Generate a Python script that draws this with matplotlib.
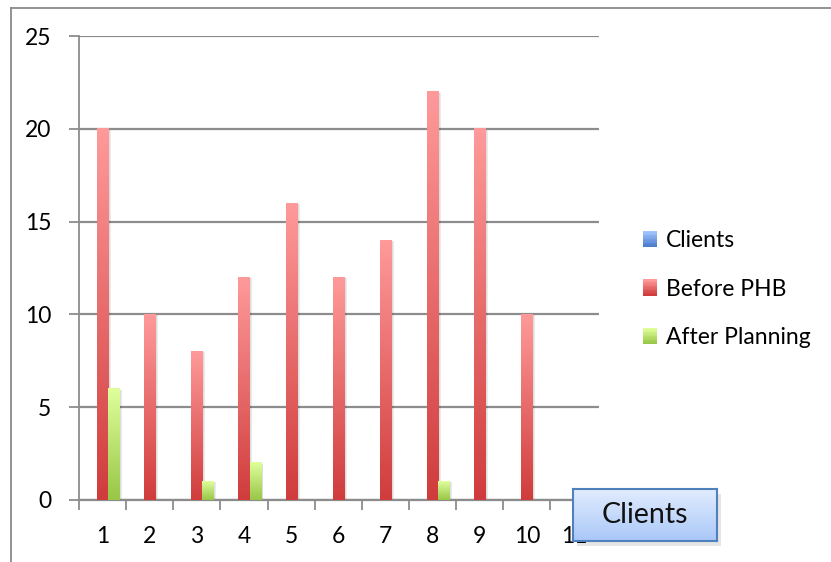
import numpy as np
import matplotlib
matplotlib.use("Agg")
import matplotlib.pyplot as plt
from matplotlib.colors import LinearSegmentedColormap
from matplotlib.patches import Rectangle
from matplotlib.legend_handler import HandlerBase
from matplotlib.lines import Line2D

# Chart data
categories = [1, 2, 3, 4, 5, 6, 7, 8, 9, 10, 11]
clients = [0, 0, 0, 0, 0, 0, 0, 0, 0, 0, 0]
before_phb = [20, 10, 8, 12, 16, 12, 14, 22, 20, 10, 0]
after_planning = [6, 0, 1, 2, 0, 0, 0, 1, 0, 0, 0]
y_ticks = [0, 5, 10, 15, 20, 25]

series_names = ["Clients", "Before PHB", "After Planning"]
# (top colour, bottom colour) of each gradient
series_grad = [("#a3c6ff", "#4a7ccc"),
               ("#ff9a9a", "#d03c3c"),
               ("#e0ff9c", "#98c646")]

plt.rcParams['font.family'] = ['Lato', 'DejaVu Sans']

W, H = 831, 562
fig = plt.figure(figsize=(W / 100, H / 100), dpi=100)

# outer chart border (top and left only visible)
fig.add_artist(Line2D([11 / W, 1], [1 - 8 / H, 1 - 8 / H], color="#8a8a8a", lw=1.3))
fig.add_artist(Line2D([11 / W, 11 / W], [0, 1 - 8 / H], color="#8a8a8a", lw=1.3))

ax = fig.add_axes([79 / W, 1 - 500 / H, (599 - 79) / W, (500 - 36) / H])

x = np.arange(len(categories)) + 1
bw = 0.235
offsets = [-bw, 0, bw]
all_values = [clients, before_phb, after_planning]

for vals, off, (ctop, cbot) in zip(all_values, offsets, series_grad):
    cmap = LinearSegmentedColormap.from_list("g", [cbot, ctop])
    bars = ax.bar(x + off, vals, width=bw, color="none", zorder=3)
    for b in bars:
        h = b.get_height()
        if h <= 0:
            continue
        x0 = b.get_x()
        # soft shadow to the right
        for k, a in zip([0.06, 0.04, 0.02], [0.08, 0.06, 0.04]):
            ax.add_patch(Rectangle((x0 + k, 0), bw, h - 0.05, color="#000000",
                                   alpha=a, lw=0, zorder=2))
        grad = np.linspace(0, 1, 256).reshape(-1, 1)
        ax.imshow(grad, cmap=cmap, origin="lower", aspect="auto",
                  extent=(x0, x0 + bw, 0, h), zorder=3)

ax.set_xlim(0.5, 11.53)
ax.set_ylim(0, 25)
ax.set_yticks(y_ticks)
ax.yaxis.grid(True, color="#8c8c8c", lw=1.6, zorder=1)
ax.set_axisbelow(True)

ax.set_xticks(x)
ax.set_xticklabels([str(c) for c in categories])
ax.set_xticks(np.arange(0.5, 11.6, 1.0), minor=True)
ax.tick_params(axis="x", which="major", length=0, pad=19, labelsize=16.5)
ax.tick_params(axis="x", which="minor", length=7, width=1.3, color="#8c8c8c", direction="out")
ax.tick_params(axis="y", length=7, width=1.3, color="#8c8c8c", pad=13, labelsize=16.5)

for s in ["top", "right"]:
    ax.spines[s].set_visible(False)
ax.spines["left"].set_color("#8c8c8c")
ax.spines["left"].set_linewidth(1.3)
ax.spines["bottom"].set_color("#8c8c8c")
ax.spines["bottom"].set_linewidth(1.6)


# legend with gradient swatches
class GradHandler(HandlerBase):
    def __init__(self, ctop, cbot):
        super().__init__()
        self.ctop, self.cbot = ctop, cbot

    def create_artists(self, legend, orig_handle, xd, yd, width, height, fontsize, trans):
        cmap = LinearSegmentedColormap.from_list("g", [self.cbot, self.ctop])
        n = 12
        arts = []
        for i in range(n):
            r = Rectangle((0, -yd + height * i / n), width, height / n + 0.3,
                          color=cmap(i / (n - 1)), lw=0, transform=trans)
            arts.append(r)
        return arts


handles = [Rectangle((0, 0), 1, 1) for _ in series_names]
hmap = {h: GradHandler(ct, cb) for h, (ct, cb) in zip(handles, series_grad)}
fig.legend(handles, series_names, handler_map=hmap, loc="center left",
           bbox_to_anchor=(643 / W, 1 - 289 / H), frameon=False, fontsize=16.5,
           borderpad=0, borderaxespad=0,
           handlelength=0.6, handleheight=0.7, handletextpad=0.4, labelspacing=1.2)

# axis title box "Clients"
bx0, by0, bx1, by1 = 573, 489, 717, 541
shadow = fig.add_axes([(bx0 + 4) / W, 1 - (by1 + 5) / H, (bx1 - bx0) / W, (by1 - by0) / H])
shadow.set_facecolor("#000000")
shadow.patch.set_alpha(0.10)
shadow.set_xticks([])
shadow.set_yticks([])
for s in shadow.spines.values():
    s.set_visible(False)

box = fig.add_axes([bx0 / W, 1 - by1 / H, (bx1 - bx0) / W, (by1 - by0) / H])
bcmap = LinearSegmentedColormap.from_list("b", ["#a9c8f8", "#e2ecfe"])
box.imshow(np.linspace(0, 1, 128).reshape(-1, 1), cmap=bcmap, origin="lower",
           aspect="auto", extent=(0, 1, 0, 1))
box.set_xlim(0, 1)
box.set_ylim(0, 1)
box.set_xticks([])
box.set_yticks([])
for s in box.spines.values():
    s.set_color("#4f81bd")
    s.set_linewidth(1.5)
box.text(0.5, 0.5, "Clients", ha="center", va="center", fontsize=20.5, color="#111111")

fig.savefig("out.png", dpi=100)
